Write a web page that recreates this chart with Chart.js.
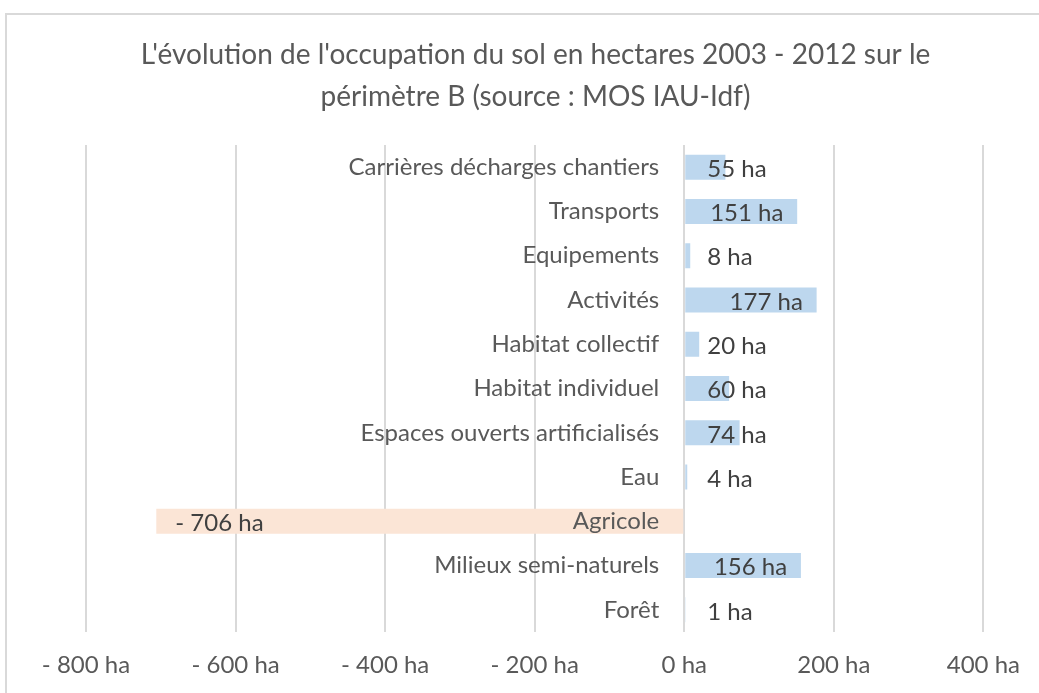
<!DOCTYPE html>
<html>
<head>
<meta charset="utf-8">
<script src="https://cdn.jsdelivr.net/npm/chart.js@4.4.1/dist/chart.umd.min.js"></script>
<style>
  html, body { margin: 0; padding: 0; background: #ffffff; }
  #wrap { position: relative; width: 1039px; height: 693px; }
</style>
</head>
<body>
<div id="wrap"><canvas id="c" width="1039" height="693"></canvas></div>
<script>
const categories = [
  "Carrières décharges chantiers",
  "Transports",
  "Equipements",
  "Activités",
  "Habitat collectif",
  "Habitat individuel",
  "Espaces ouverts artificialisés",
  "Eau",
  "Agricole",
  "Milieux semi-naturels",
  "Forêt"
];
const values = [55, 151, 8, 177, 20, 60, 74, 4, -706, 156, 1];
const tickValues = [-800, -600, -400, -200, 0, 200, 400];
const titleLines = [
  "L'évolution de l'occupation du sol en hectares 2003 - 2012 sur le",
  "périmètre B (source : MOS IAU-Idf)"
];

const FONT = "Lato, 'Open Sans', sans-serif";
const POS_COLOR = "#BDD7EE";
const NEG_COLOR = "#FBE5D6";

function fmtHa(v) {
  return (v < 0 ? "- " + Math.abs(v) : String(v)) + " ha";
}

const frame = {
  id: "frame",
  beforeDraw(chart) {
    const ctx = chart.ctx;
    ctx.save();
    ctx.fillStyle = "#ffffff";
    ctx.fillRect(0, 0, chart.width, chart.height);
    ctx.strokeStyle = "#D9D9D9";
    ctx.lineWidth = 2;
    ctx.beginPath();
    ctx.moveTo(6, chart.height);
    ctx.lineTo(6, 14);
    ctx.lineTo(chart.width, 14);
    ctx.stroke();
    ctx.restore();
  }
};

const labelsPlugin = {
  id: "labelsPlugin",
  afterDatasetsDraw(chart) {
    const ctx = chart.ctx;
    const xs = chart.scales.x, ys = chart.scales.y;
    const zero = xs.getPixelForValue(0);
    ctx.save();
    ctx.textBaseline = "middle";
    ctx.font = "24px " + FONT;
    categories.forEach((cat, i) => {
      const y = ys.getPixelForValue(i);
      ctx.fillStyle = "#595959";
      ctx.textAlign = "right";
      ctx.fillText(cat, zero - 25, y);
      const v = values[i];
      const end = xs.getPixelForValue(v);
      ctx.fillStyle = "#404040";
      ctx.textAlign = "left";
      let x;
      if (v < 0) x = end + 19;
      else x = Math.max(zero + 23, end - 87);
      ctx.fillText(fmtHa(v), x, y + 2);
    });
    ctx.restore();
  }
};

new Chart(document.getElementById("c"), {
  type: "bar",
  data: {
    labels: categories,
    datasets: [{
      data: values,
      backgroundColor: values.map(v => v < 0 ? NEG_COLOR : POS_COLOR),
      borderWidth: 0,
      categoryPercentage: 1,
      barPercentage: 0.565
    }]
  },
  options: {
    indexAxis: "y",
    responsive: false,
    animation: false,
    devicePixelRatio: 1,
    layout: { padding: { left: 86, right: 54, top: 13, bottom: 13 } },
    plugins: {
      legend: { display: false },
      tooltip: { enabled: false },
      title: {
        display: true,
        text: titleLines,
        color: "#595959",
        font: { family: FONT, size: 28, weight: "normal", lineHeight: 1.5 },
        padding: { top: 21, bottom: 27 }
      }
    },
    scales: {
      x: {
        type: "linear",
        min: -800,
        max: 400,
        afterBuildTicks(scale) { scale.ticks = tickValues.map(v => ({ value: v })); },
        afterFit(scale) { scale.height = 48; },
        ticks: {
          color: "#595959",
          font: { family: FONT, size: 24 },
          padding: 19,
          maxRotation: 0,
          callback: v => fmtHa(v)
        },
        grid: { color: "#D9D9D9", lineWidth: 2, drawTicks: false },
        border: { display: false }
      },
      y: {
        display: false,
        offset: true
      }
    }
  },
  plugins: [frame, labelsPlugin]
});
</script>
</body>
</html>
